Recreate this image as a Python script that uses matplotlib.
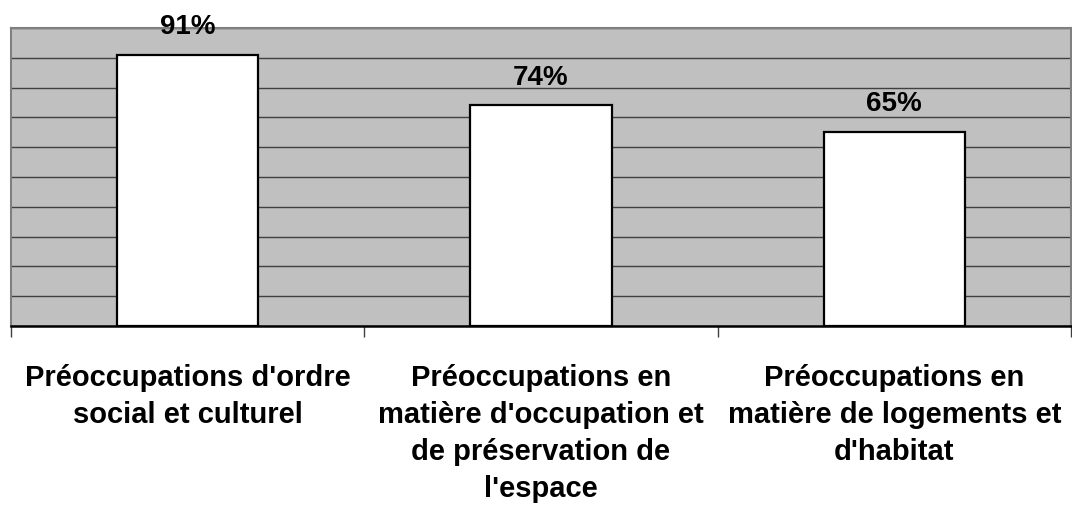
import matplotlib
matplotlib.use("Agg")
import matplotlib.pyplot as plt
import numpy as np

categories = [
    "Préoccupations d'ordre\nsocial et culturel",
    "Préoccupations en\nmatière d'occupation et\nde préservation de\nl'espace",
    "Préoccupations en\nmatière de logements et\nd'habitat",
]
values = [91, 74, 65]
value_labels = ["91%", "74%", "65%"]

plt.rcParams['font.family'] = ['Liberation Sans', 'DejaVu Sans']

fig = plt.figure(figsize=(10.72, 5.11), dpi=100)
W, H = 1072, 511
ax = fig.add_axes([11 / W, 1 - 326 / H, 1060 / W, 298 / H])
ax.set_facecolor('#C0C0C0')

x = np.arange(len(categories))
ax.bar(x, values, width=0.40, color='white', edgecolor='black', linewidth=1.6, zorder=3)
ax.set_xlim(-0.5, len(categories) - 0.5)
ax.set_ylim(0, 100)
ax.set_yticks(np.arange(0, 101, 10))
ax.yaxis.grid(True, color='#404040', linewidth=1.0, zorder=1)
ax.set_axisbelow(True)
ax.tick_params(axis='y', length=0, labelleft=False)

ax.set_xticks(x)
ax.set_xticklabels(categories, fontsize=21, fontweight='bold', linespacing=1.4)
ax.tick_params(axis='x', which='major', length=0, pad=27.5)
ax.set_xticks(np.arange(-0.5, len(categories), 1.0), minor=True)
ax.tick_params(axis='x', which='minor', length=8, width=1, color='#404040', direction='out')

for s in ['top', 'left', 'right']:
    ax.spines[s].set_color('#808080')
    ax.spines[s].set_linewidth(1.5)
ax.spines['bottom'].set_color('black')
ax.spines['bottom'].set_linewidth(1.8)

for xi, v, lab in zip(x, values, value_labels):
    ax.annotate(lab, (xi, v), xytext=(0, 15), textcoords='offset points',
                ha='center', va='baseline', fontsize=20, fontweight='bold', zorder=4)

fig.savefig('out.png', dpi=100)
